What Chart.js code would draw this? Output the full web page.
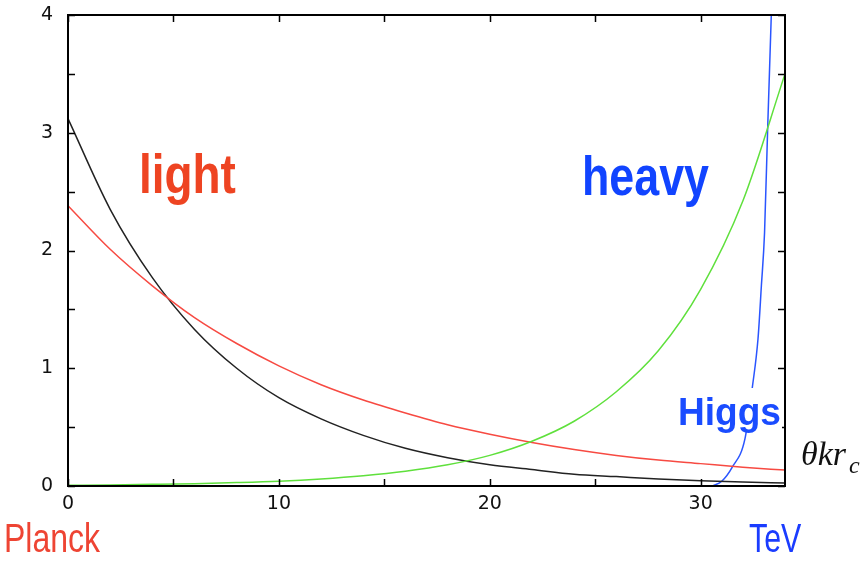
<!DOCTYPE html>
<html>
<head>
<meta charset="utf-8">
<script src="https://cdn.jsdelivr.net/npm/chart.js@4/dist/chart.umd.min.js"></script>
<style>
  html, body { margin: 0; padding: 0; background: #fff; }
  canvas { display: block; }
</style>
</head>
<body>
<canvas id="grafico" width="864" height="562"></canvas>
<script>
(function (window, document) {
    'use strict';

    // curvas amostradas de 2 em 2 em theta k r_c
    var xs = [0, 2, 4, 6, 8, 10, 12, 14, 16, 18, 20, 22, 24, 26, 28, 30, 32, 34];
    var blackY = [3.12, 2.35, 1.77, 1.33, 1.00, 0.75, 0.57, 0.43, 0.32, 0.24, 0.18, 0.14, 0.10, 0.08, 0.06, 0.044, 0.033, 0.025];
    var redY = [2.38, 2.01, 1.70, 1.43, 1.21, 1.02, 0.86, 0.73, 0.62, 0.52, 0.44, 0.37, 0.31, 0.26, 0.22, 0.19, 0.16, 0.135];
    var greenY = [0.006, 0.009, 0.014, 0.02, 0.029, 0.041, 0.06, 0.087, 0.125, 0.18, 0.26, 0.38, 0.55, 0.80, 1.15, 1.67, 2.42, 3.50];

    // Higgs: sobe rapido perto do TeV
    var higgsX = [30.55, 31.0, 31.5, 32.1, 32.46, 32.72, 32.88, 33.03, 33.18, 33.35, 33.5];
    var higgsY = [0, 0.04, 0.16, 0.40, 0.85, 1.25, 1.7, 2.15, 3.05, 4.0, 4.9];

    var xTicks = [0, 5, 10, 15, 20, 25, 30];
    var yTicks = [0, 0.5, 1, 1.5, 2, 2.5, 3, 3.5, 4];
    var xLabels = ['0', '10', '20', '30'];
    var yLabels = ['0', '1', '2', '3', '4'];

    function pontos(xv, yv) {
        return xv.map(function (x, i) { return { x: x, y: yv[i] }; });
    }

    function serie(xv, yv, cor) {
        return {
            data: pontos(xv, yv),
            borderColor: cor,
            borderWidth: 1.5,
            pointRadius: 0,
            cubicInterpolationMode: 'monotone',
            clip: 1
        };
    }

    function texto(ctx, str, x, y, fonte, cor, sx) {
        ctx.save();
        ctx.translate(x, y);
        ctx.scale(sx, 1);
        ctx.font = fonte;
        ctx.fillStyle = cor;
        ctx.textBaseline = 'alphabetic';
        ctx.textAlign = 'left';
        ctx.fillText(str, 0, 0);
        ctx.restore();
    }

    // moldura com tracinhos para dentro, nos quatro lados
    var moldura = {
        id: 'moldura',
        afterDatasetsDraw: function (chart) {
            var ctx = chart.ctx;
            var a = chart.chartArea;
            var sx = chart.scales.x, sy = chart.scales.y;
            ctx.save();
            ctx.strokeStyle = '#000';
            ctx.lineWidth = 1.5;
            ctx.beginPath();
            xTicks.forEach(function (v) {
                var px = Math.round(sx.getPixelForValue(v)) + 0.5;
                ctx.moveTo(px, a.bottom); ctx.lineTo(px, a.bottom - 7);
                ctx.moveTo(px, a.top); ctx.lineTo(px, a.top + 7);
            });
            yTicks.forEach(function (v) {
                var py = Math.round(sy.getPixelForValue(v)) + 0.5;
                ctx.moveTo(a.left, py); ctx.lineTo(a.left + 7, py);
                ctx.moveTo(a.right, py); ctx.lineTo(a.right - 7, py);
            });
            ctx.stroke();
            ctx.lineWidth = 2;
            ctx.strokeRect(a.left, a.top, a.right - a.left, a.bottom - a.top);

            // caixa branca do rotulo Higgs, por cima da curva azul
            ctx.fillStyle = '#fff';
            ctx.fillRect(676, 388, 106, 44);
            texto(ctx, 'Higgs', 678, 425, 'bold 39px "Liberation Sans", Arial, sans-serif', '#1a4cff', 0.95);
            texto(ctx, 'light', 139, 193, 'bold 56px "Liberation Sans", Arial, sans-serif', '#ee4422', 0.82);
            texto(ctx, 'heavy', 582, 195, 'bold 56px "Liberation Sans", Arial, sans-serif', '#1144ff', 0.8);
            texto(ctx, 'Planck', 4, 552, '40px "Liberation Sans", Arial, sans-serif', '#ee4433', 0.8);
            texto(ctx, 'TeV', 749, 552, '40px "Liberation Sans", Arial, sans-serif', '#1a3cff', 0.76);
            texto(ctx, '\u03b8kr', 801, 465, 'italic 34px "Liberation Serif", "DejaVu Serif", serif', '#111', 1);
            texto(ctx, 'c', 849, 473, 'italic 24px "Liberation Serif", "DejaVu Serif", serif', '#111', 1);
            ctx.restore();
        }
    };

    var $grafico = document.getElementById('grafico');

    new Chart($grafico, {
        type: 'line',
        data: {
            datasets: [
                serie(xs, greenY, '#5fe03c'),
                serie(xs, redY, '#f74a42'),
                serie(xs, blackY, '#222222'),
                serie(higgsX, higgsY, '#2a55ff')
            ]
        },
        options: {
            responsive: false,
            devicePixelRatio: 1,
            animation: false,
            layout: {
                padding: { top: 15, right: 79, left: 0, bottom: 0 }
            },
            plugins: {
                legend: { display: false },
                tooltip: { enabled: false }
            },
            scales: {
                x: {
                    type: 'linear',
                    min: 0,
                    max: 34,
                    afterBuildTicks: function (scale) {
                        scale.ticks = xTicks.map(function (v) { return { value: v }; });
                    },
                    afterFit: function (scale) {
                        scale.height = 76;
                        scale.paddingLeft = 0;
                        scale.paddingRight = 0;
                    },
                    grid: { display: false, drawTicks: false },
                    border: { display: false },
                    ticks: {
                        autoSkip: false,
                        maxRotation: 0,
                        padding: 7,
                        color: '#111',
                        font: { family: '"DejaVu Sans", sans-serif', size: 19 },
                        callback: function (v) {
                            return v % 10 === 0 ? xLabels[v / 10] : '';
                        }
                    }
                },
                y: {
                    type: 'linear',
                    min: 0,
                    max: 4,
                    afterBuildTicks: function (scale) {
                        scale.ticks = yTicks.map(function (v) { return { value: v }; });
                    },
                    afterFit: function (scale) {
                        scale.width = 68;
                        scale.paddingTop = 0;
                        scale.paddingBottom = 0;
                    },
                    grid: { display: false, drawTicks: false },
                    border: { display: false },
                    ticks: {
                        autoSkip: false,
                        padding: 15,
                        color: '#111',
                        font: { family: '"DejaVu Sans", sans-serif', size: 19 },
                        callback: function (v) {
                            return Number.isInteger(v) ? yLabels[v] : '';
                        }
                    }
                }
            }
        },
        plugins: [moldura]
    });
})(window, document);
</script>
</body>
</html>
